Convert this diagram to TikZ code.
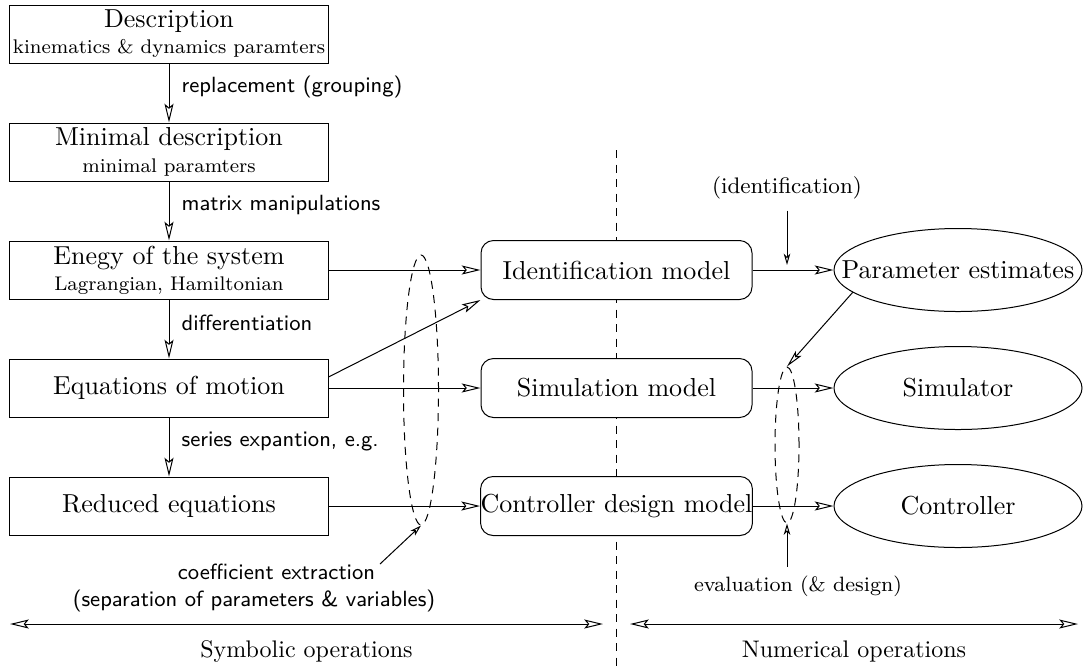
\documentclass[tikz,border=0pt]{standalone}
\usetikzlibrary{arrows.meta,shapes.geometric,positioning}

\newcommand{\diagmain}{\fontsize{10.4}{12.5}\selectfont}
\newcommand{\diagsub}{\fontsize{7.9}{10}\selectfont}
\newcommand{\diagsans}{\sffamily\fontsize{8.8}{11}\selectfont}
\newcommand{\diagnote}{\fontsize{9}{11}\selectfont}
\newcommand{\diagrange}{\fontsize{9.6}{11.5}\selectfont}

\tikzset{
  flowtip/.tip={Stealth[open,length=7.5pt,width=3.6pt,inset=1.5pt]},
  pointtip/.tip={Stealth[open,length=4.5pt,width=2.6pt,inset=1.2pt]},
  longtip/.tip={Stealth[open,length=7pt,width=3pt,inset=1.5pt]},
  opbox/.style={draw, fill=white, minimum width=127.2pt, minimum height=23.2pt, inner sep=1pt, align=center, font=\diagmain},
  modelbox/.style={draw, fill=white, rounded corners=5pt, minimum width=108.4pt, minimum height=23.6pt, inner xsep=0pt, font=\diagmain},
  estnode/.style={draw, ellipse, minimum width=99.2pt, minimum height=33.2pt, inner sep=0pt, font=\diagmain},
  group/.style={draw, ellipse, dash pattern=on 3.2pt off 2.6pt, inner sep=0pt},
  sepline/.style={dash pattern=on 3.2pt off 2.6pt},
  flow/.style={-flowtip},
  span/.style={flowtip-flowtip},
  pointer/.style={-pointtip},
  steplabel/.style={right=1.5pt, pos=0.4, font=\diagsans},
  note/.style={font=\diagnote}
}

\begin{document}
\begin{tikzpicture}[x=0.4pt,y=-0.4pt,thin]
  \useasboundingbox (0,0) rectangle (1085,668);

  % symbolic / numerical separator
  \coordinate (sepTop) at (616,150);
  \coordinate (sepBot) at (616,668);
  \draw [sepline] (sepTop) -- (sepBot);

  % symbolic chain
  \node [opbox] (desc) at (169,34) {Description\\[-2pt]{\diagsub kinematics \& dynamics paramters}};
  \node [opbox] (mindesc) at (169,152) {Minimal description\\[-2pt]{\diagsub minimal paramters}};
  \node [opbox] (energy) at (169,270) {Enegy of the system\\[-2pt]{\diagsub Lagrangian, Hamiltonian}};
  \node [opbox] (eqs) at (169,388) {Equations of motion};
  \node [opbox] (reduced) at (169,506) {Reduced equations};

  \draw [flow] (desc) -- (mindesc) node [steplabel] (lblgroup) {replacement (grouping)};
  \draw [flow] (mindesc) -- (energy) node [steplabel] (lblmatrix) {matrix manipulations};
  \draw [flow] (energy) -- (eqs) node [steplabel] (lbldiff) {dif{}f{}erentiation};
  \draw [flow] (eqs) -- (reduced) node [steplabel] (lblseries) {series expantion, e.g.};

  % models
  \node [modelbox] (ident) at (616.5,270) {Identification model};
  \node [modelbox] (sim) at (616.5,388) {Simulation model};
  \node [modelbox] (ctrl) at (616.5,506) {Controller design model};

  \draw [flow] (energy) -- (ident);
  \draw [flow] ([yshift=4.4pt]eqs.east) -- (ident.south west);
  \draw [flow] (eqs) -- (sim);
  \draw [flow] (reduced) -- (ctrl);

  % numerical results
  \node [estnode] (param) at (958,270) {\makebox[0pt]{Parameter estimates}};
  \node [estnode] (simr) at (958,388) {Simulator};
  \node [estnode] (ctrlr) at (958,506) {Controller};

  \draw [flow] (ident) -- (param);
  \draw [flow] (sim) -- (simr);
  \draw [flow] (ctrl) -- (ctrlr);

  % groupings and notes
  \node [group, minimum width=14pt, minimum height=108pt] (grpL) at (421,390) {};
  \node [group, minimum width=9.6pt, minimum height=62.4pt] (grpR) at (787,445) {};

  \node [font=\diagsans, align=center] (coef) at (254,588) {\hspace*{18pt}coe{}f{}f{}icient extraction\\(separation of parameters \& variables)};
  \coordinate (coeftail) at (380,564);
  \draw [pointer] (coeftail) -- (grpL.south);

  \node [note] (idnote) at (787,188) {(identification)};
  \coordinate (idtip) at (787,265);
  \draw [pointer, shorten <=1pt] (idnote) -- (idtip);

  \draw [-longtip] (param.192) -- (grpR.north);

  \node [note, font=\fontsize{8.3}{10}\selectfont] (evalnote) at (798,586) {evaluation (\& design)};
  \draw [pointer] (evalnote.north -| grpR.south) -- (grpR.south);

  % ranges
  \coordinate (symL) at (10,624);
  \coordinate (symR) at (603,624);
  \coordinate (numL) at (630,624);
  \coordinate (numR) at (1078,624);
  \draw [span] (symL) -- (symR) node [midway, below=3pt, font=\diagrange] (symlabel) {Symbolic operations};
  \draw [span] (numL) -- (numR) node [midway, below=3pt, font=\diagrange] (numlabel) {Numerical operations};
\end{tikzpicture}
\end{document}
